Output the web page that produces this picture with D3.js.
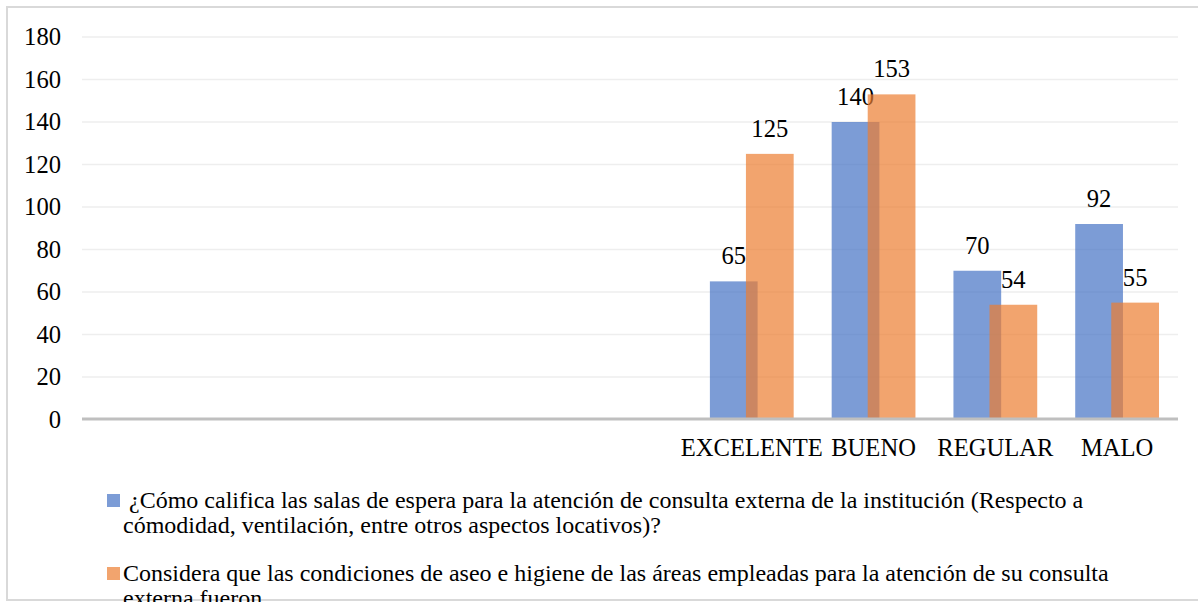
<!DOCTYPE html>
<html>
<head>
<meta charset="utf-8">
<script src="https://cdn.jsdelivr.net/npm/d3@7"></script>
<style>
  html, body { margin: 0; padding: 0; background: #fff; }
  svg { display: block; }
</style>
</head>
<body>
<svg id="chart" width="1198" height="602" font-family="'Liberation Serif', 'Times New Roman', Tinos, 'DejaVu Serif', serif"></svg>
<script>
const categories = ["", " ", "  ", "   ", "    ", "EXCELENTE", "BUENO", "REGULAR", "MALO"];
const seriesNames = [
  ["\u00A0¿Cómo califica las salas de espera para la atención de consulta externa de la institución (Respecto a",
   "cómodidad, ventilación, entre otros aspectos locativos)?"],
  ["Considera que las condiciones de aseo e higiene de las áreas empleadas para la atención de su consulta",
   "externa fueron"]
];
const salas = [null, null, null, null, null, 65, 140, 70, 92];
const aseo  = [null, null, null, null, null, 125, 153, 54, 55];
const yTicks = [0, 20, 40, 60, 80, 100, 120, 140, 160, 180];

const colors = ["#4472C4", "#ED7D31"];
const series = [salas, aseo];
const FONT = "Liberation Serif";
const AX = 24.6;

const svg = d3.select("#chart");

// frame
svg.append("path")
  .attr("d", "M1198,7 H7 V600 H1198")
  .attr("fill", "none").attr("stroke", "#d9d9d9").attr("stroke-width", 2);

const x = d3.scaleBand().domain(categories).range([82, 1178]).paddingInner(0).paddingOuter(0);
const y = d3.scaleLinear().domain([0, 180]).range([419.5, 37]);

// gridlines
svg.append("g").selectAll("line").data(yTicks.filter(d => d > 0)).join("line")
  .attr("x1", 82).attr("x2", 1178)
  .attr("y1", d => y(d)).attr("y2", d => y(d))
  .attr("stroke", "#eeeeee").attr("stroke-width", 1.5);

// y tick labels
svg.append("g").selectAll("text").data(yTicks).join("text")
  .attr("x", 61).attr("y", d => y(d)).attr("dy", "0.34em")
  .attr("text-anchor", "end").attr("font-size", AX).attr("font-family", FONT)
  .text(d => d);

const bw = x.bandwidth();
const barW = bw * 0.392;
const off = bw * 0.148;

series.forEach((vals, si) => {
  const data = categories.map((c, i) => ({c, v: vals[i]})).filter(d => d.v != null);
  const cx = d => x(d.c) + bw / 2 + (si === 0 ? -off : off);
  svg.append("g").selectAll("rect").data(data).join("rect")
    .attr("x", d => cx(d) - barW / 2)
    .attr("width", barW)
    .attr("y", d => y(d.v))
    .attr("height", d => y(0) - y(d.v))
    .attr("fill", colors[si]).attr("fill-opacity", 0.7);
  svg.append("g").selectAll("text").data(data).join("text")
    .attr("x", d => cx(d)).attr("y", d => y(d.v) - 17)
    .attr("text-anchor", "middle").attr("font-size", AX).attr("font-family", FONT)
    .text(d => d.v);
});

// axis baseline
svg.append("line").attr("x1", 82).attr("x2", 1178)
  .attr("y1", 419).attr("y2", 419)
  .attr("stroke", "#bfbfbf").attr("stroke-width", 3);

// x labels
svg.append("g").selectAll("text").data(categories.filter(c => c.trim() !== "")).join("text")
  .attr("x", d => x(d) + bw / 2).attr("y", 456)
  .attr("text-anchor", "middle").attr("font-size", AX).attr("font-family", FONT)
  .text(d => d);

// legend
const legendTop = [508, 581];
seriesNames.forEach((lines, si) => {
  svg.append("rect").attr("x", 107).attr("y", legendTop[si] - 14)
    .attr("width", 13).attr("height", 13)
    .attr("fill", colors[si]).attr("fill-opacity", 0.7);
  lines.forEach((ln, li) => {
    svg.append("text").attr("x", 123).attr("y", legendTop[si] + li * 25)
      .attr("font-size", 24).attr("font-family", FONT).text(ln);
  });
});
</script>
</body>
</html>
